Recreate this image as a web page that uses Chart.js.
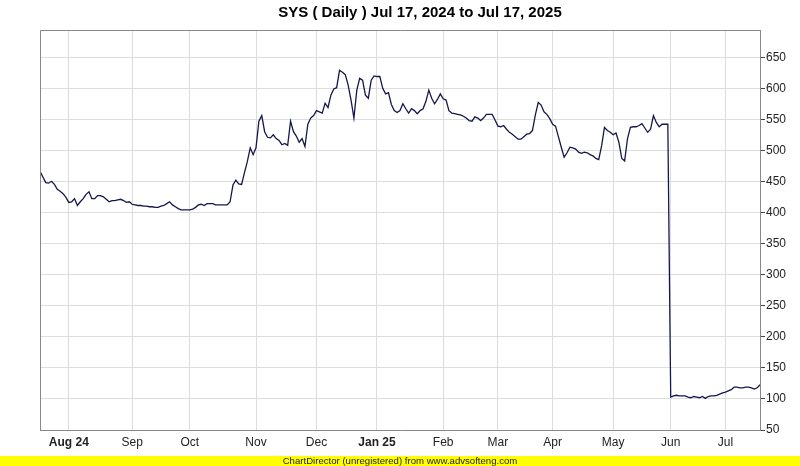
<!DOCTYPE html>
<html>
<head>
<meta charset="utf-8">
<script src="https://cdn.jsdelivr.net/npm/chart.js@4"></script>
<style>
  html, body { margin: 0; padding: 0; background: #fff; }
  #wrap { position: relative; width: 800px; height: 466px; }
  #footer {
    position: absolute; left: 0; top: 456px; width: 800px; height: 10px;
    background: #ffff00; color: #222; text-align: center;
    font: 9.6px "Liberation Sans", Arial, sans-serif; line-height: 10px;
  }
</style>
</head>
<body>
<div id="wrap">
  <canvas id="chart" width="800" height="456"></canvas>
  <div id="footer">ChartDirector (unregistered) from www.advsofteng.com</div>
</div>
<script>
// daily close, Jul 17 2024 -> Jul 17 2025 (one value per trading day)
var closes = [
  467,458,449,448,451,446,438,435,431,425,
  417,418,423,412,418,423,430,434,423,423,
  428,428,426,422,418,420,420,421,422,420,
  417,418,414,413,412,412,411,411,410,410,
  409,409,411,412,415,418,413,410,407,405,
  405,405,405,406,409,413,414,412,415,415,
  415,413,413,413,413,413,418,445,453,447,
  446,465,483,505,494,505,548,557,531,522,
  521,526,520,517,510,512,509,548,531,524,
  514,520,507,543,553,557,565,563,561,577,
  570,590,600,602,630,627,623,606,582,553,
  598,617,614,590,585,614,621,620,620,601,
  592,594,575,565,562,565,576,568,561,568,
  565,560,565,568,580,598,585,576,583,592,
  584,582,565,561,560,559,558,556,553,549,
  548,555,553,549,553,559,559,559,550,540,
  539,541,535,530,527,523,519,519,523,527,
  528,533,558,578,574,563,559,552,543,540,
  523,506,490,497,506,505,503,498,496,498,
  497,494,492,488,486,508,538,533,530,526,
  529,514,488,484,520,538,539,539,541,544,
  537,530,535,557,546,539,543,543,543,103,
  105,106,105,105,105,103,102,104,103,102,
  104,101,104,105,105,106,108,110,111,113,
  115,119,119,118,118,119,119,118,116,118,
  123
];

// first trading day of each month (index into closes) and its label
var monthIdx = [10, 32, 52, 75, 96, 117, 140, 159, 178, 199, 219, 238];
var monthLabels = ['Aug 24', 'Sep', 'Oct', 'Nov', 'Dec', 'Jan 25', 'Feb', 'Mar', 'Apr', 'May', 'Jun', 'Jul'];

var yTicks = [50, 100, 150, 200, 250, 300, 350, 400, 450, 500, 550, 600, 650];

var points = closes.map(function (v, i) { return { x: i, y: v }; });

var FONT = '"Liberation Sans", Arial, sans-serif';

// left and top frame lines
var framePlugin = {
  id: 'frame',
  afterDraw: function (chart) {
    var a = chart.chartArea, ctx = chart.ctx;
    ctx.save();
    ctx.strokeStyle = '#888';
    ctx.lineWidth = 1;
    ctx.beginPath();
    ctx.moveTo(a.left + 0.5, a.bottom);
    ctx.lineTo(a.left + 0.5, a.top + 0.5);
    ctx.lineTo(a.right, a.top + 0.5);
    ctx.stroke();
    ctx.restore();
  }
};

new Chart(document.getElementById('chart'), {
  type: 'line',
  data: {
    datasets: [{
      data: points,
      borderColor: '#16164e',
      borderWidth: 1.3,
      pointRadius: 0,
      tension: 0,
      fill: false
    }]
  },
  options: {
    responsive: false,
    animation: false,
    layout: { padding: { left: 40, right: 0, top: 0, bottom: 0 } },
    plugins: {
      legend: { display: false },
      tooltip: { enabled: false },
      title: {
        display: true,
        text: 'SYS ( Daily ) Jul 17, 2024 to Jul 17, 2025',
        color: '#000',
        font: { family: FONT, size: 15, weight: 'bold' },
        padding: { top: 4, bottom: 8 }
      }
    },
    scales: {
      x: {
        type: 'linear',
        min: 0,
        max: closes.length - 1,
        afterBuildTicks: function (scale) {
          scale.ticks = monthIdx.map(function (v) { return { value: v }; });
        },
        afterFit: function (scale) { scale.height = 26; },
        grid: { color: '#dddddd', drawTicks: false },
        border: { color: '#888' },
        ticks: {
          autoSkip: false,
          maxRotation: 0,
          padding: 5,
          color: '#222',
          font: function (ctx) {
            var lbl = ctx.tick ? ctx.tick.label : '';
            return { family: FONT, size: 12, weight: (lbl === 'Aug 24' || lbl === 'Jan 25') ? 'bold' : 'normal' };
          },
          callback: function (value, index) { return monthLabels[index]; }
        }
      },
      y: {
        position: 'right',
        min: 50,
        max: 695,
        afterBuildTicks: function (scale) {
          scale.ticks = yTicks.map(function (v) { return { value: v }; });
        },
        afterFit: function (scale) { scale.width = 40; },
        grid: { color: '#dddddd', tickColor: '#444', tickLength: 5 },
        border: { color: '#888' },
        ticks: {
          padding: 1,
          color: '#222',
          font: { family: FONT, size: 12 }
        }
      }
    }
  },
  plugins: [framePlugin]
});
</script>
</body>
</html>
